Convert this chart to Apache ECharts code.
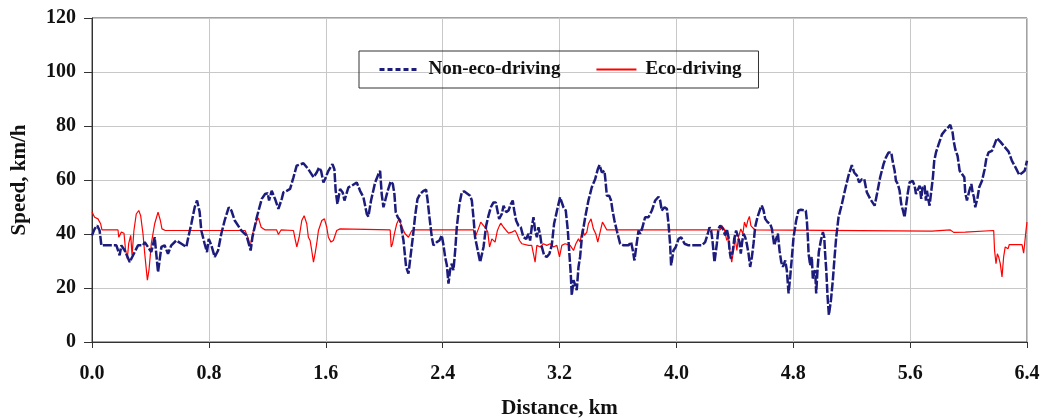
<!DOCTYPE html>
<html>
<head>
<meta charset="utf-8">
<title>Speed vs distance</title>
<script src="https://cdn.jsdelivr.net/npm/echarts@6/dist/echarts.min.js"></script>
<style>
  html, body { margin: 0; padding: 0; background: #fff; }
  #main { width: 1043px; height: 419px; }
</style>
</head>
<body>
<div id="main"></div>
<script>
// distance (km) / speed (km/h)
var nonEcoKm = [0.000, 0.018, 0.036, 0.052, 0.059, 0.064, 0.110, 0.167, 0.178, 0.189, 0.201, 0.224, 0.258, 0.292, 0.315, 0.349, 0.361, 0.383, 0.406, 0.429,
  0.440, 0.452, 0.475, 0.497, 0.520, 0.543, 0.577, 0.612, 0.646, 0.657, 0.680, 0.703, 0.719, 0.737, 0.748, 0.771, 0.787, 0.799, 0.817, 0.840,
  0.863, 0.885, 0.908, 0.936, 0.954, 0.977, 1.022, 1.057, 1.086, 1.098, 1.128, 1.162, 1.185, 1.203, 1.212, 1.230, 1.253, 1.276, 1.299, 1.310,
  1.333, 1.356, 1.379, 1.401, 1.447, 1.481, 1.516, 1.538, 1.554, 1.568, 1.584, 1.595, 1.618, 1.646, 1.659, 1.668, 1.680, 1.698, 1.716, 1.728,
  1.755, 1.778, 1.812, 1.824, 1.835, 1.858, 1.881, 1.892, 1.910, 1.938, 1.961, 1.972, 1.983, 1.995, 2.006, 2.024, 2.045, 2.059, 2.070, 2.079,
  2.093, 2.109, 2.132, 2.150, 2.166, 2.177, 2.196, 2.212, 2.228, 2.246, 2.269, 2.287, 2.296, 2.310, 2.326, 2.337, 2.360, 2.378, 2.394, 2.406,
  2.417, 2.429, 2.440, 2.451, 2.463, 2.474, 2.486, 2.497, 2.515, 2.531, 2.547, 2.565, 2.588, 2.600, 2.611, 2.622, 2.638, 2.657, 2.668, 2.680,
  2.698, 2.714, 2.730, 2.748, 2.764, 2.775, 2.787, 2.805, 2.817, 2.835, 2.851, 2.867, 2.880, 2.890, 2.903, 2.919, 2.935, 2.953, 2.972, 2.988,
  2.999, 3.010, 3.022, 3.033, 3.045, 3.056, 3.068, 3.079, 3.095, 3.113, 3.131, 3.147, 3.163, 3.188, 3.204, 3.216, 3.227, 3.243, 3.257, 3.266,
  3.277, 3.284, 3.296, 3.307, 3.318, 3.330, 3.341, 3.353, 3.376, 3.398, 3.421, 3.444, 3.462, 3.474, 3.490, 3.508, 3.517, 3.524, 3.540, 3.553,
  3.563, 3.576, 3.592, 3.615, 3.638, 3.672, 3.690, 3.702, 3.713, 3.725, 3.741, 3.752, 3.768, 3.786, 3.809, 3.832, 3.855, 3.878, 3.889, 3.900,
  3.919, 3.935, 3.946, 3.957, 3.964, 3.980, 3.996, 4.015, 4.033, 4.056, 4.083, 4.174, 4.197, 4.215, 4.227, 4.238, 4.247, 4.261, 4.277, 4.288,
  4.300, 4.318, 4.334, 4.345, 4.357, 4.364, 4.373, 4.387, 4.396, 4.409, 4.419, 4.432, 4.441, 4.450, 4.460, 4.471, 4.482, 4.494, 4.505, 4.517,
  4.528, 4.539, 4.555, 4.574, 4.585, 4.597, 4.608, 4.624, 4.642, 4.654, 4.670, 4.683, 4.695, 4.706, 4.718, 4.729, 4.745, 4.756, 4.768, 4.779,
  4.791, 4.802, 4.820, 4.836, 4.852, 4.886, 4.893, 4.900, 4.905, 4.916, 4.927, 4.934, 4.950, 4.957, 4.966, 4.975, 4.989, 5.003, 5.012, 5.019,
  5.026, 5.035, 5.044, 5.058, 5.071, 5.083, 5.094, 5.110, 5.133, 5.156, 5.178, 5.201, 5.217, 5.236, 5.251, 5.270, 5.286, 5.304, 5.327, 5.357,
  5.373, 5.395, 5.418, 5.434, 5.452, 5.471, 5.480, 5.494, 5.503, 5.516, 5.528, 5.539, 5.551, 5.562, 5.571, 5.583, 5.596, 5.617, 5.631, 5.640,
  5.653, 5.665, 5.676, 5.685, 5.699, 5.708, 5.715, 5.726, 5.733, 5.745, 5.756, 5.765, 5.777, 5.795, 5.818, 5.840, 5.859, 5.875, 5.891, 5.898,
  5.909, 5.925, 5.939, 5.955, 5.971, 5.977, 5.989, 6.005, 6.019, 6.028, 6.037, 6.046, 6.062, 6.073, 6.092, 6.110, 6.121, 6.137, 6.160, 6.178,
  6.194, 6.217, 6.251, 6.274, 6.297, 6.324, 6.347, 6.370, 6.384, 6.400];
var nonEcoSpeed = [39.5, 41.9, 43.1, 41.3, 38.2, 35.8, 35.8, 35.8, 33.9, 32.1, 35.8, 33.9, 29.6, 33.3, 35.8, 35.8, 37.0, 35.2, 33.3, 38.8,
  39.5, 25.9, 35.2, 35.8, 32.7, 35.8, 37.6, 36.4, 35.2, 38.2, 43.8, 49.9, 52.4, 48.1, 41.3, 36.4, 33.3, 38.2, 35.8, 31.5,
  33.9, 40.1, 45.0, 49.9, 48.7, 45.0, 41.3, 39.5, 33.9, 38.8, 46.2, 53.0, 54.8, 55.1, 52.4, 56.0, 53.0, 49.3, 53.0, 55.4,
  56.0, 56.7, 61.0, 65.3, 66.2, 64.0, 61.0, 62.8, 64.6, 63.4, 59.1, 60.3, 63.4, 65.9, 64.0, 56.0, 51.1, 56.7, 55.4, 52.4,
  57.3, 57.9, 59.1, 59.7, 56.0, 53.6, 47.4, 46.5, 52.4, 59.1, 62.2, 63.4, 54.8, 49.9, 49.3, 56.0, 59.5, 58.5, 54.8, 48.1,
  46.2, 45.0, 37.6, 27.8, 25.3, 30.2, 38.8, 46.8, 53.0, 54.8, 56.0, 56.4, 53.0, 46.2, 38.8, 35.8, 37.0, 37.6, 39.5, 35.8,
  31.5, 28.4, 21.6, 26.6, 29.0, 26.6, 33.9, 42.5, 51.1, 55.4, 55.8, 55.1, 54.2, 52.4, 46.2, 38.8, 34.5, 29.6, 30.2, 35.2,
  43.1, 46.8, 49.9, 51.7, 51.7, 48.7, 45.6, 47.4, 50.5, 48.1, 48.7, 51.1, 52.4, 48.7, 45.0, 43.1, 42.5, 38.8, 38.2, 40.1,
  37.6, 42.5, 46.2, 41.3, 38.8, 42.5, 39.5, 35.2, 32.1, 31.5, 32.7, 35.8, 43.8, 49.9, 53.6, 54.2, 49.9, 48.7, 41.3, 33.9,
  25.3, 17.3, 22.9, 22.3, 19.2, 27.8, 31.5, 38.8, 46.2, 52.4, 57.3, 60.3, 64.0, 65.6, 62.8, 63.4, 58.5, 54.2, 54.2, 52.4,
  48.7, 45.0, 41.3, 36.4, 35.8, 35.8, 37.0, 33.9, 30.2, 35.2, 41.3, 40.1, 42.5, 46.2, 46.2, 48.7, 52.4, 53.8, 52.4, 48.7,
  49.9, 49.3, 43.8, 36.4, 28.4, 33.9, 35.2, 38.2, 38.8, 36.4, 35.8, 35.8, 37.0, 40.1, 42.5, 41.3, 37.6, 29.6, 36.4, 41.9,
  43.1, 41.9, 39.5, 41.9, 38.8, 33.9, 30.9, 33.9, 38.2, 41.3, 41.9, 37.0, 32.7, 37.0, 40.1, 38.8, 36.4, 32.7, 27.8, 31.5,
  36.4, 42.5, 46.2, 49.3, 50.5, 48.7, 45.6, 44.4, 43.8, 41.9, 35.8, 38.2, 40.1, 33.9, 29.6, 27.8, 30.2, 26.6, 18.0, 24.1,
  31.5, 38.8, 45.0, 48.7, 49.0, 48.7, 45.0, 38.8, 32.7, 28.4, 31.5, 23.5, 26.6, 18.0, 26.6, 33.3, 37.6, 40.7, 38.8, 32.1,
  26.6, 16.7, 10.0, 15.5, 22.9, 31.5, 38.8, 46.2, 51.1, 56.7, 61.6, 65.5, 62.8, 61.6, 59.1, 60.3, 60.3, 55.4, 53.0, 50.5,
  54.8, 61.0, 65.9, 68.3, 70.2, 70.2, 67.1, 63.4, 59.7, 58.5, 56.0, 51.1, 48.7, 46.2, 49.9, 54.8, 59.1, 59.7, 57.9, 54.8,
  55.4, 57.9, 53.0, 57.3, 57.9, 52.4, 56.0, 52.4, 50.5, 56.0, 61.0, 67.1, 70.2, 73.2, 76.9, 78.4, 79.4, 80.4, 77.5, 74.5,
  71.4, 68.9, 63.4, 62.2, 61.0, 55.4, 52.4, 56.0, 58.5, 55.4, 53.6, 49.9, 53.6, 57.3, 59.7, 64.0, 67.7, 70.2, 70.8, 73.2,
  75.5, 74.2, 72.0, 70.5, 67.1, 64.4, 61.9, 62.8, 63.4, 67.1];

var ecoKm = [0.000, 0.018, 0.030, 0.041, 0.059, 0.068, 0.178, 0.183, 0.201, 0.219, 0.230, 0.242, 0.251, 0.265, 0.274, 0.287, 0.303, 0.320, 0.333, 0.349,
  0.361, 0.379, 0.390, 0.406, 0.429, 0.452, 0.468, 0.479, 0.502, 1.048, 1.071, 1.082, 1.105, 1.128, 1.139, 1.158, 1.185, 1.264, 1.276, 1.294,
  1.379, 1.390, 1.402, 1.418, 1.436, 1.452, 1.470, 1.481, 1.493, 1.504, 1.516, 1.527, 1.538, 1.550, 1.573, 1.591, 1.607, 1.618, 1.636, 1.652,
  1.675, 1.698, 2.041, 2.048, 2.057, 2.070, 2.086, 2.102, 2.109, 2.127, 2.143, 2.166, 2.189, 2.212, 2.611, 2.622, 2.634, 2.645, 2.661, 2.680,
  2.698, 2.709, 2.721, 2.737, 2.748, 2.759, 2.775, 2.789, 2.798, 2.817, 2.835, 2.851, 2.874, 2.896, 2.908, 2.926, 2.942, 2.988, 3.010, 3.033,
  3.045, 3.068, 3.090, 3.113, 3.136, 3.159, 3.182, 3.200, 3.216, 3.238, 3.273, 3.296, 3.312, 3.330, 3.341, 3.357, 3.371, 3.387, 3.398, 3.416,
  3.432, 3.448, 3.462, 3.478, 3.494, 3.508, 3.524, 4.300, 4.311, 4.327, 4.345, 4.357, 4.368, 4.379, 4.391, 4.402, 4.414, 4.425, 4.441, 4.455,
  4.466, 4.478, 4.489, 4.500, 4.510, 4.523, 4.539, 5.749, 5.875, 5.898, 5.977, 6.172, 6.178, 6.188, 6.197, 6.206, 6.217, 6.229, 6.240, 6.251,
  6.270, 6.279, 6.366, 6.377, 6.384, 6.393, 6.400];
var ecoSpeed = [48.1, 46.2, 46.5, 45.6, 43.8, 41.5, 41.5, 38.8, 40.7, 40.3, 33.9, 30.9, 36.4, 39.5, 32.1, 41.3, 47.4, 48.7, 46.8, 40.1,
  32.7, 22.9, 26.6, 36.4, 43.8, 48.1, 45.0, 41.9, 41.3, 41.3, 38.2, 35.2, 41.3, 45.0, 46.0, 42.5, 41.5, 41.5, 39.8, 41.5,
  41.3, 38.2, 35.2, 38.8, 45.0, 46.8, 43.8, 38.8, 37.6, 33.9, 29.6, 32.7, 36.4, 41.3, 45.0, 45.6, 42.5, 38.8, 37.0, 37.6,
  41.3, 41.9, 41.5, 35.2, 36.4, 40.1, 43.8, 45.6, 44.4, 41.9, 40.1, 38.8, 41.3, 41.5, 41.5, 38.8, 38.2, 41.9, 44.4, 43.1,
  41.9, 40.7, 35.2, 38.2, 38.8, 37.0, 41.3, 43.1, 44.0, 42.5, 41.3, 40.3, 40.7, 41.3, 40.1, 37.6, 36.4, 35.8, 35.8, 29.6,
  35.8, 35.2, 36.4, 35.8, 36.4, 35.2, 35.8, 31.5, 35.8, 36.4, 35.8, 33.9, 36.4, 38.2, 37.0, 41.9, 39.5, 40.7, 43.8, 45.6,
  41.9, 40.1, 37.0, 40.7, 44.4, 43.1, 41.5, 41.5, 43.1, 41.9, 37.6, 38.8, 32.7, 29.6, 33.9, 38.8, 33.9, 38.8, 41.9, 40.1,
  44.4, 42.5, 45.0, 46.5, 43.1, 42.3, 41.5, 41.1, 41.5, 40.6, 40.7, 41.3, 33.9, 29.0, 32.7, 31.5, 29.0, 24.1, 31.5, 35.2,
  34.5, 36.1, 36.1, 32.9, 36.4, 41.3, 44.4];

var xTicks = { min: 0, max: 6.4, step: 0.8 };
var yTicks = { min: 0, max: 120, step: 20 };

function pairs(xs, ys) {
  var out = [];
  for (var i = 0; i < xs.length; i++) out.push([xs[i], ys[i]]);
  return out;
}

var serif = 'Liberation Serif';
var chart = echarts.init(document.getElementById('main'), null, { renderer: 'canvas' });

chart.setOption({
  backgroundColor: '#fff',
  animation: false,
  grid: {
    left: 92, right: 16, top: 18, bottom: 77,
    outerBoundsMode: 'none', // keep the plot box where it is, labels may sit outside
    show: true, borderColor: '#444', borderWidth: 1
  },
  legend: {
    left: 359, top: 51,
    padding: [9, 17, 9, 19],
    itemGap: 35,
    itemWidth: 40, itemHeight: 14,
    borderColor: '#333', borderWidth: 1,
    itemStyle: { opacity: 0 }, // line only, no marker
    textStyle: { fontFamily: serif, fontWeight: 'bold', fontSize: 19, color: '#111', padding: [0, 0, 0, 4] },
    data: [
      { name: 'Non-eco-driving', lineStyle: { type: [5, 3], width: 3 } },
      { name: 'Eco-driving' }
    ]
  },
  xAxis: {
    type: 'value',
    min: xTicks.min, max: xTicks.max, interval: xTicks.step,
    name: 'Distance, km', nameLocation: 'middle', nameGap: 56,
    nameTextStyle: { fontFamily: serif, fontWeight: 'bold', fontSize: 21, color: '#111' },
    axisLine: { lineStyle: { color: '#333', width: 1 } },
    axisTick: { show: true, length: 6, lineStyle: { color: '#333' } },
    axisLabel: { margin: 22, fontFamily: serif, fontWeight: 'bold', fontSize: 20, color: '#111',
      formatter: function (v) { return v.toFixed(1); } },
    splitLine: { show: true, lineStyle: { color: '#c8c8c8', width: 1 } }
  },
  yAxis: {
    type: 'value',
    min: yTicks.min, max: yTicks.max, interval: yTicks.step,
    name: 'Speed, km/h', nameLocation: 'middle', nameGap: 62, nameRotate: 90,
    nameTextStyle: { fontFamily: serif, fontWeight: 'bold', fontSize: 21, color: '#111' },
    axisLine: { show: true, lineStyle: { color: '#333', width: 1 } },
    axisTick: { show: true, length: 8, lineStyle: { color: '#333' } },
    axisLabel: { margin: 16, fontFamily: serif, fontWeight: 'bold', fontSize: 20, color: '#111' },
    splitLine: { show: true, lineStyle: { color: '#c8c8c8', width: 1 } }
  },
  series: [
    {
      name: 'Non-eco-driving',
      type: 'line',
      symbol: 'none',
      color: '#1c1c7c',
      lineStyle: { color: '#1c1c7c', width: 2.5, type: [9, 2] },
      data: pairs(nonEcoKm, nonEcoSpeed),
      z: 3
    },
    {
      name: 'Eco-driving',
      type: 'line',
      symbol: 'none',
      color: '#ff0000',
      lineStyle: { color: '#ff0000', width: 1.2 },
      data: pairs(ecoKm, ecoSpeed),
      z: 2
    }
  ]
});
</script>
</body>
</html>
